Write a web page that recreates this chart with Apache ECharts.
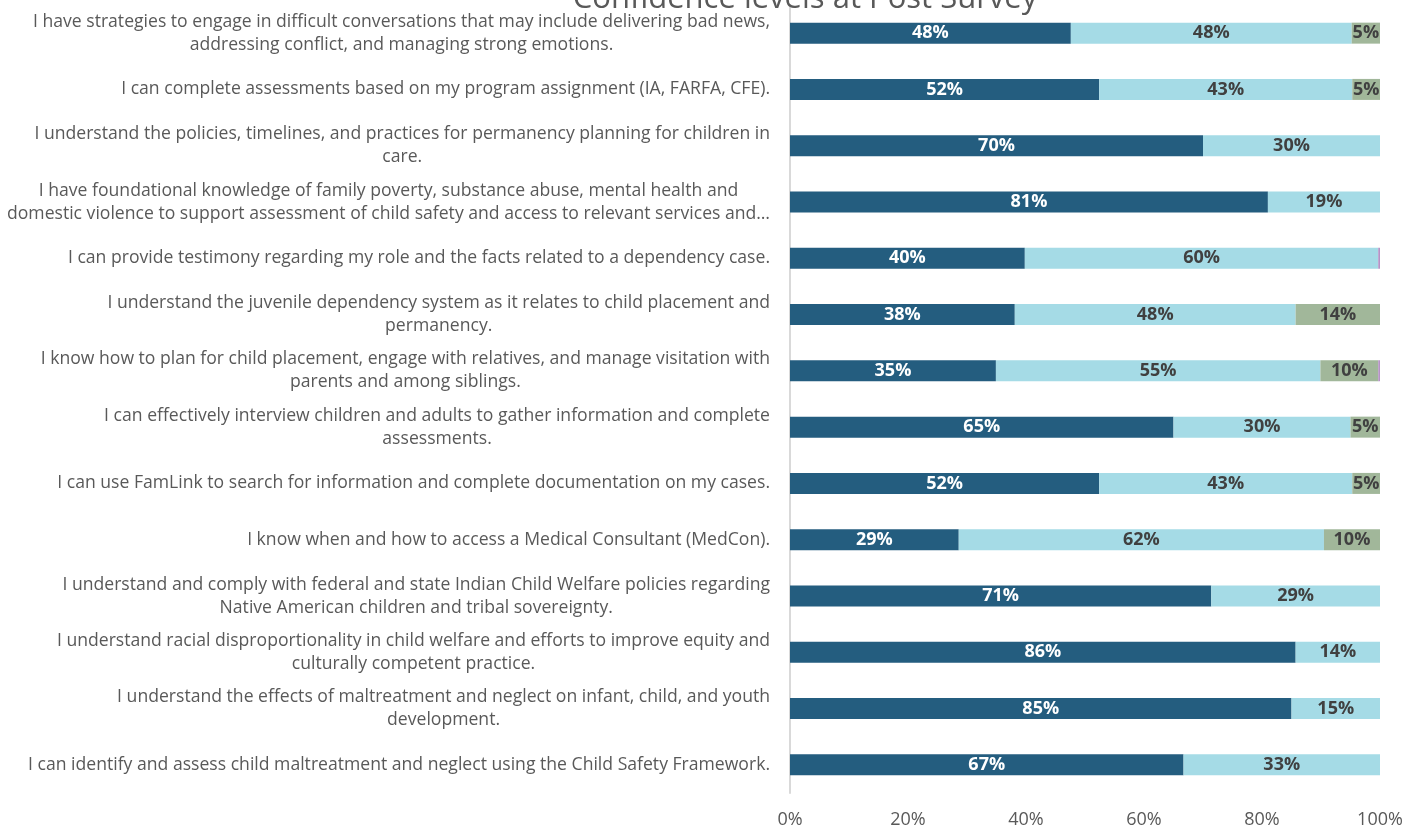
<!DOCTYPE html>
<html><head><meta charset="utf-8">
<script src="https://cdn.jsdelivr.net/npm/echarts@6/dist/echarts.min.js"></script>
<style>html,body{margin:0;padding:0;background:#fff}#c{width:1425px;height:835px}</style>
</head><body><div id="c"></div>
<script>
const title = "Confidence levels at Post Survey";
const categories = [
  "I have strategies to engage in difficult conversations that may include delivering bad news,\naddressing conflict, and managing strong emotions.",
  "I can complete assessments based on my program assignment (IA, FARFA, CFE).",
  "I understand the policies, timelines, and practices for permanency planning for children in\ncare.",
  "I have foundational knowledge of family poverty, substance abuse, mental health and\ndomestic violence to support assessment of child safety and access to relevant services and…",
  "I can provide testimony regarding my role and the facts related to a dependency case.",
  "I understand the juvenile dependency system as it relates to child placement and\npermanency.",
  "I know how to plan for child placement, engage with relatives, and manage visitation with\nparents and among siblings.",
  "I can effectively interview children and adults to gather information and complete\nassessments.",
  "I can use FamLink to search for information and complete documentation on my cases.",
  "I know when and how to access a Medical Consultant (MedCon).",
  "I understand and comply with federal and state Indian Child Welfare policies regarding\nNative American children and tribal sovereignty.",
  "I understand racial disproportionality in child welfare and efforts to improve equity and\nculturally competent practice.",
  "I understand the effects of maltreatment and neglect on infant, child, and youth\ndevelopment.",
  "I can identify and assess child maltreatment and neglect using the Child Safety Framework."
];
const veryConfident     = [47.6, 52.4, 70, 81.0, 39.8, 38.1, 34.9, 65, 52.4, 28.6, 71.4, 85.7, 85, 66.7];
const confident         = [47.6, 42.9, 30, 19.0, 59.9, 47.6, 55.0, 30, 42.9, 61.9, 28.6, 14.3, 15, 33.3];
const somewhatConfident = [4.8, 4.7, 0, 0, 0, 14.3, 9.8, 5, 4.7, 9.5, 0, 0, 0, 0];
const notConfident      = [0, 0, 0, 0, 0.3, 0, 0.3, 0, 0, 0, 0, 0, 0, 0];
const xTicks = [0, 20, 40, 60, 80, 100];

const font = "'Open Sans', 'Noto Sans', sans-serif";
function lbl(color) {
  return {
    show: true, color: color, fontFamily: font, fontWeight: 'bold', fontSize: 18,
    formatter: p => p.value >= 2 ? Math.round(p.value) + '%' : ''
  };
}
const chart = echarts.init(document.getElementById('c'), null, {renderer: 'canvas'});
chart.setOption({
  animation: false,
  backgroundColor: '#fff',
  title: {
    text: title, left: 800, top: -21, textAlign: 'center',
    textStyle: {fontFamily: font, fontWeight: 'normal', fontSize: 31, color: '#595959'}
  },
  grid: {left: 790, right: 45, top: 5, bottom: 42, containLabel: false, outerBoundsMode: 'none'},
  xAxis: {
    type: 'value', min: 0, max: 100, interval: 20,
    axisLine: {show: false}, axisTick: {show: false}, splitLine: {show: false},
    axisLabel: {
      margin: 18, fontFamily: font, fontSize: 18, color: '#595959',
      formatter: v => xTicks.includes(v) ? v + '%' : ''
    }
  },
  yAxis: {
    type: 'category', data: categories, inverse: true,
    axisLine: {show: true, lineStyle: {color: '#d9d9d9', width: 2}},
    axisTick: {show: false},
    axisLabel: {
      margin: 20, fontFamily: font, fontSize: 17.6, color: '#595959',
      align: 'right', lineHeight: 23,
      formatter: v => v.split('\n').map(s => '{c|' + s + '}').join('\n'),
      rich: {c: {align: 'center', fontFamily: font, fontSize: 17.6, color: '#595959', lineHeight: 23}}
    }
  },
  series: [
    {name: 'Very confident', type: 'bar', stack: 's', barWidth: 21, data: veryConfident,
     itemStyle: {color: '#245d7f'}, label: lbl('#ffffff')},
    {name: 'Confident', type: 'bar', stack: 's', barWidth: 21, data: confident,
     itemStyle: {color: '#a5dbe6'}, label: lbl('#404040')},
    {name: 'Somewhat confident', type: 'bar', stack: 's', barWidth: 21, data: somewhatConfident,
     itemStyle: {color: '#a1b79a'}, label: lbl('#404040')},
    {name: 'Not confident', type: 'bar', stack: 's', barWidth: 21, data: notConfident,
     itemStyle: {color: '#b693c6'}, label: {show: false}}
  ]
});
</script></body></html>
